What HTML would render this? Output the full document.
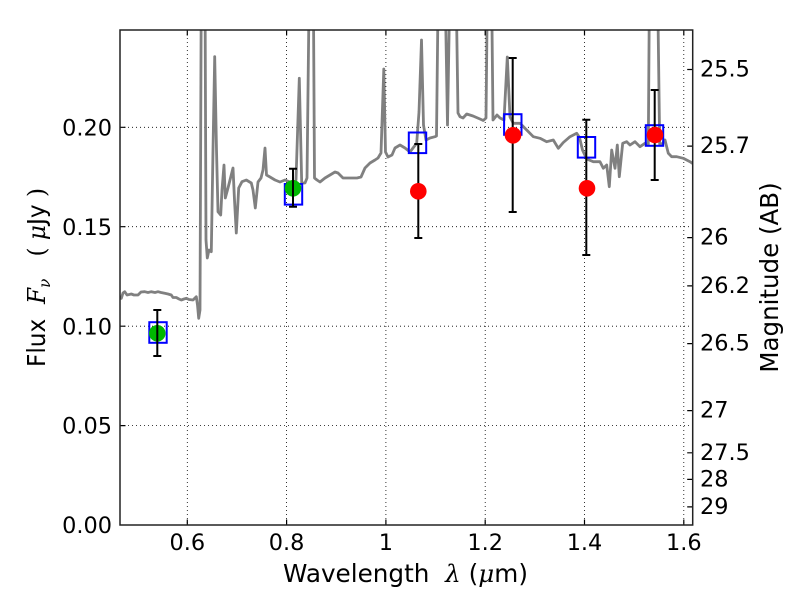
<!DOCTYPE html>
<html><head><meta charset="utf-8"><style>
html,body{margin:0;padding:0;background:#fff;}
svg{display:block;font-family:"DejaVu Sans","Liberation Sans",sans-serif;}
</style></head><body>
<svg width="800" height="600" viewBox="0 0 800 600" xmlns="http://www.w3.org/2000/svg" xml:space="preserve">
<defs><clipPath id="pa"><rect x="120" y="30" width="572.7" height="495"/></clipPath></defs>
<rect width="800" height="600" fill="#fff"/>
<g stroke="#000" stroke-width="0.8" stroke-dasharray="1 3" fill="none">
<line x1="120" y1="425.6" x2="692.7" y2="425.6"/>
<line x1="120" y1="326.2" x2="692.7" y2="326.2"/>
<line x1="120" y1="226.7" x2="692.7" y2="226.7"/>
<line x1="120" y1="127.3" x2="692.7" y2="127.3"/>
<line x1="187.3" y1="30" x2="187.3" y2="525"/>
<line x1="286.6" y1="30" x2="286.6" y2="525"/>
<line x1="385.9" y1="30" x2="385.9" y2="525"/>
<line x1="485.2" y1="30" x2="485.2" y2="525"/>
<line x1="584.5" y1="30" x2="584.5" y2="525"/>
<line x1="683.8" y1="30" x2="683.8" y2="525"/>
</g>
<g clip-path="url(#pa)">
<path fill="none" stroke="#808080" stroke-width="2.8" stroke-linejoin="round" d="M118,296 L121.3,298.3 L123,293 L124.7,291.7 L127,295 L131.3,294 L134,295 L138,295 L141,292 L144.7,291.7 L148,292.5 L151.3,291.7 L155,292.5 L158,291.7 L161,292.5 L164.7,293.3 L168,294 L171.3,295 L173,297.5 L176.3,297.5 L179,299 L181.3,300 L184,299 L186.3,298.3 L189,299.5 L193,300 L195,298 L196.3,296.7 L197.5,305 L198.7,318.3 L200,310 L201.3,-20 L205,-20 L206,240 L207.3,258 L209,250 L211.3,251.7 L213,150 L214.7,56.7 L216.5,150 L218,211.7 L220.7,215 L222,190 L224,165 L225.3,198 L228,188 L230,180 L233,168 L234.5,200 L236.3,233 L238.7,188 L242,181.7 L246.3,180 L251.3,183 L253,190 L255.3,208 L258,182 L261,178 L263,170 L265,148 L266.5,175 L270,177 L275,180 L280,182 L285,180 L290,182 L294,183 L296,180 L299.3,78.3 L301.7,183 L305,183 L307,178 L309.3,-20 L313.3,-20 L314.5,178 L317,180 L320,182 L325,178 L330,175 L335,172 L338,173 L343,178 L350,178 L357,178 L361,177 L365,168 L370,163 L375,160 L378,158 L381,153 L383.8,69 L385.5,152 L388,157 L392,155 L395,148 L400,145 L405,148 L410,152 L413,148 L416.7,143.3 L419,112 L421.5,40 L423.5,125 L426,140 L430,138 L435,136.7 L436.5,136 L438.3,-20 L441.7,-20 L445,-20 L447.5,125 L450,-20 L456,-20 L458,113 L460,116.7 L463,118 L466.7,114 L473,116 L480,119 L483.3,120.5 L486,118 L487.5,-20 L491.5,-20 L493,120 L497,115 L500,118 L504,120 L507.3,57 L510,117 L513.3,123.3 L520,123.3 L526.7,130 L533.3,136.7 L540,138.3 L546.7,141.7 L553.3,140 L558.3,148.3 L563.3,142.5 L570,136.7 L576.7,133.3 L579.5,137.5 L582.5,150 L586.7,159 L593.3,161.7 L600,161.7 L603.3,168.3 L606.7,165 L609.3,186.7 L611.7,150 L615,168.3 L617.3,145 L619.3,176.7 L622.7,143.3 L626.7,141.7 L630,145 L635,141.7 L640,146.7 L645,143.3 L648.3,145 L649.5,-20 L657.5,-20 L659.7,145 L662,144 L665,140 L668.3,153.3 L671.7,156.7 L676.7,156.7 L683.3,158.3 L690,161.7 L695,165"/>
</g>
<g fill="none" stroke="#0000ff" stroke-width="2">
<rect x="149.3" y="322.2" width="17.4" height="20.6"/>
<rect x="284.8" y="184" width="17.4" height="20.6"/>
<rect x="408.8" y="132.5" width="17.4" height="20.6"/>
<rect x="504.1" y="114.2" width="17.4" height="20.6"/>
<rect x="577.8" y="137" width="17.4" height="20.6"/>
<rect x="645.8" y="125.2" width="17.4" height="20.6"/>
</g>
<g fill="#00b800">
<circle cx="157.3" cy="333.3" r="8.3"/>
<circle cx="293" cy="188.3" r="8.3"/>
</g>
<g stroke="#000" stroke-width="2" fill="none">
<path d="M157.3,310 V356 M153.3,310 H161.3 M153.3,356 H161.3"/>
<path d="M293,168.7 V206.7 M289,168.7 H297 M289,206.7 H297"/>
<path d="M418.3,144 V238 M414.3,144 H422.3 M414.3,238 H422.3"/>
<path d="M512.7,58 V212 M508.7,58 H516.7 M508.7,212 H516.7"/>
<path d="M586.3,119.7 V255 M582.3,119.7 H590.3 M582.3,255 H590.3"/>
<path d="M654.7,90 V180 M650.7,90 H658.7 M650.7,180 H658.7"/>
</g>
<g fill="#ff0000">
<circle cx="418.3" cy="191.3" r="8.3"/>
<circle cx="513" cy="135.3" r="8.3"/>
<circle cx="587" cy="188.3" r="8.3"/>
<circle cx="655" cy="135" r="8.3"/>
</g>
<g stroke="#000" stroke-width="1.2">
<path d="M120,425.6 h5.5 M120,326.2 h5.5 M120,226.7 h5.5 M120,127.3 h5.5"/>
<path d="M187.3,525 v-5.5 M286.6,525 v-5.5 M385.9,525 v-5.5 M485.2,525 v-5.5 M584.5,525 v-5.5 M683.8,525 v-5.5"/>
<path d="M187.3,30 v5.5 M286.6,30 v5.5 M385.9,30 v5.5 M485.2,30 v5.5 M584.5,30 v5.5 M683.8,30 v5.5"/>
<path d="M692.7,69.5 h-5.5 M692.7,146.1 h-5.5 M692.7,237.6 h-5.5 M692.7,285.9 h-5.5 M692.7,343.6 h-5.5 M692.7,410.6 h-5.5 M692.7,452.8 h-5.5 M692.7,479.4 h-5.5 M692.7,506.9 h-5.5"/>
</g>
<rect x="120" y="30" width="572.7" height="495" fill="none" stroke="#222" stroke-width="1.5"/>
<g font-size="22.4" fill="#000">
<g text-anchor="end">
<text x="112" y="533.1">0.00</text>
<text x="112" y="433.7">0.05</text>
<text x="112" y="334.3">0.10</text>
<text x="112" y="234.8">0.15</text>
<text x="112" y="135.4">0.20</text>
</g>
<g text-anchor="middle">
<text x="187.3" y="550">0.6</text>
<text x="286.6" y="550">0.8</text>
<text x="385.9" y="550">1</text>
<text x="485.2" y="550">1.2</text>
<text x="584.5" y="550">1.4</text>
<text x="683.8" y="550">1.6</text>
</g>
<g text-anchor="start">
<text x="700" y="76.5">25.5</text>
<text x="700" y="153.1">25.7</text>
<text x="700" y="244.6">26</text>
<text x="700" y="292.9">26.2</text>
<text x="700" y="350.6">26.5</text>
<text x="700" y="417.6">27</text>
<text x="700" y="459.8">27.5</text>
<text x="700" y="486.4">28</text>
<text x="700" y="513.9">29</text>
</g>
</g>
<text x="405.5" y="582" font-size="24.5" text-anchor="middle" textLength="245" lengthAdjust="spacingAndGlyphs">Wavelength&#160;&#160;<tspan font-family="'DejaVu Serif','Liberation Serif',serif" font-style="italic">λ</tspan>&#160;(<tspan font-family="'DejaVu Serif','Liberation Serif',serif" font-style="italic">μ</tspan>m)</text>
<text transform="translate(45,277.5) rotate(-90)" font-size="24.5" text-anchor="middle" textLength="179" lengthAdjust="spacingAndGlyphs">Flux&#160;&#160;<tspan font-family="'DejaVu Serif','Liberation Serif',serif" font-style="italic">F</tspan><tspan font-family="'DejaVu Serif','Liberation Serif',serif" font-style="italic" font-size="16" dy="5">ν</tspan><tspan dy="-5">&#160;&#160;&#160;</tspan><tspan font-family="'DejaVu Serif','Liberation Serif',serif">(</tspan>&#160;<tspan font-family="'DejaVu Serif','Liberation Serif',serif" font-style="italic">μ</tspan>Jy&#160;<tspan font-family="'DejaVu Serif','Liberation Serif',serif">)</tspan></text>
<text transform="translate(778,277.5) rotate(-90)" font-size="24.5" text-anchor="middle">Magnitude (AB)</text>
</svg>
</body></html>
